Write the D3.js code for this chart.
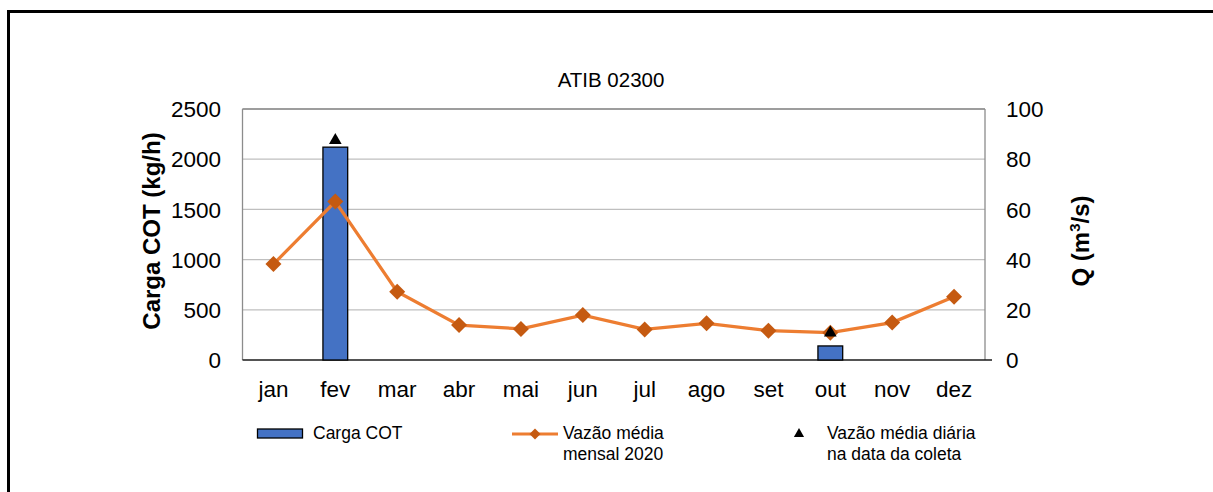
<!DOCTYPE html>
<html><head><meta charset="utf-8">
<script src="https://cdn.jsdelivr.net/npm/d3@7"></script>
<style>body{margin:0;background:#fff}svg{display:block;font-family:"Liberation Sans",Arial,sans-serif}</style>
</head><body>
<svg id="c" width="1213" height="492"></svg>
<script>
const months = ["jan","fev","mar","abr","mai","jun","jul","ago","set","out","nov","dez"];
const cargaCOT = [null,2120,null,null,null,null,null,null,null,140,null,null];
const vazaoMensal = [38.2,63.1,27.2,13.9,12.4,17.9,12.2,14.6,11.7,10.9,14.9,25.2];
const vazaoDiaria = [null,87.5,null,null,null,null,null,null,null,10.8,null,null];
const leftTicks = [0,500,1000,1500,2000,2500];
const rightTicks = [0,20,40,60,80,100];

const svg = d3.select("#c");
const L=242.5, R=985, T=109, B=360;
const x = d3.scaleBand().domain(months).range([L,R]).paddingInner(0).paddingOuter(0);
const yL = d3.scaleLinear().domain([0,2500]).range([B,T]);
const yR = d3.scaleLinear().domain([0,100]).range([B,T]);

// outer border
svg.append("line").attr("x1",8.5).attr("x2",1213).attr("y1",11.5).attr("y2",11.5).attr("stroke","#000").attr("stroke-width",3);
svg.append("line").attr("x1",8.5).attr("x2",8.5).attr("y1",10).attr("y2",492).attr("stroke","#000").attr("stroke-width",3);

// gridlines
svg.append("g").selectAll("line").data(leftTicks.filter(d=>d>0)).join("line")
  .attr("x1",L).attr("x2",R).attr("y1",d=>yL(d)).attr("y2",d=>yL(d))
  .attr("stroke","#BFBFBF").attr("stroke-width",1.3);

// axes lines
svg.append("line").attr("x1",L).attr("x2",L).attr("y1",T).attr("y2",B).attr("stroke","#8C8C8C").attr("stroke-width",1.3);
svg.append("line").attr("x1",R).attr("x2",R).attr("y1",T).attr("y2",B).attr("stroke","#8C8C8C").attr("stroke-width",1.3);
svg.append("line").attr("x1",L).attr("x2",R).attr("y1",T).attr("y2",T).attr("stroke","#8C8C8C").attr("stroke-width",1.3);
svg.append("line").attr("x1",L).attr("x2",R+7).attr("y1",B).attr("y2",B).attr("stroke","#1a1a1a").attr("stroke-width",1.3);

// tick labels
svg.append("g").selectAll("text").data(leftTicks).join("text")
  .attr("x",221).attr("y",d=>yL(d)).attr("dy","0.36em").attr("text-anchor","end")
  .attr("font-size",22.5).attr("fill","#000").text(d=>d);
svg.append("g").selectAll("text").data(rightTicks).join("text")
  .attr("x",1006).attr("y",d=>yR(d)).attr("dy","0.36em").attr("text-anchor","start")
  .attr("font-size",22.5).attr("fill","#000").text(d=>d);
svg.append("g").selectAll("text").data(months).join("text")
  .attr("x",d=>x(d)+x.bandwidth()/2).attr("y",397).attr("text-anchor","middle")
  .attr("font-size",22.5).attr("fill","#000").text(d=>d);

// axis titles
svg.append("text").attr("transform","translate(160,231) rotate(-90)").attr("text-anchor","middle")
  .attr("font-size",24).attr("font-weight","bold").text("Carga COT (kg/h)");
const rt = svg.append("text").attr("transform","translate(1089,241) rotate(-90)").attr("text-anchor","middle")
  .attr("font-size",24).attr("font-weight","bold");
rt.append("tspan").text("Q (m");
rt.append("tspan").attr("font-size",15).attr("dy",-9).text("3");
rt.append("tspan").attr("dy",9).text("/s)");

// title
svg.append("text").attr("x",611).attr("y",87).attr("text-anchor","middle").attr("font-size",20.5).text("ATIB 02300");

// bars
const bw = x.bandwidth()*0.4;
svg.append("g").selectAll("rect").data(months.map((m,i)=>({m,v:cargaCOT[i]})).filter(d=>d.v!=null)).join("rect")
  .attr("x",d=>x(d.m)+x.bandwidth()/2-bw/2).attr("width",bw)
  .attr("y",d=>yL(d.v)).attr("height",d=>B-yL(d.v))
  .attr("fill","#4472C4").attr("stroke","#000").attr("stroke-width",1.3);

// line
const pts = months.map((m,i)=>({m,v:vazaoMensal[i]}));
svg.append("path").datum(pts)
  .attr("d",d3.line().x(d=>x(d.m)+x.bandwidth()/2).y(d=>yR(d.v)))
  .attr("fill","none").attr("stroke","#ED7D31").attr("stroke-width",3.2);
const diamond = d3.symbol().type(d3.symbolSquare).size(128);
svg.append("g").selectAll("path").data(pts).join("path")
  .attr("d",diamond)
  .attr("transform",d=>`translate(${x(d.m)+x.bandwidth()/2},${yR(d.v)}) rotate(45)`)
  .attr("fill","#C55A11");

// triangles
const tri = d3.symbol().type(d3.symbolTriangle).size(70);
svg.append("g").selectAll("path").data(months.map((m,i)=>({m,v:vazaoDiaria[i]})).filter(d=>d.v!=null)).join("path")
  .attr("d",tri)
  .attr("transform",d=>`translate(${x(d.m)+x.bandwidth()/2},${yR(d.v)})`)
  .attr("fill","#000");

// legend
const lg = svg.append("g").attr("font-size",17.5).attr("fill","#000");
lg.append("rect").attr("x",257.5).attr("y",429).attr("width",45).attr("height",9)
  .attr("fill","#4472C4").attr("stroke","#000").attr("stroke-width",1.3);
lg.append("text").attr("x",313).attr("y",439).text("Carga COT");
lg.append("line").attr("x1",512).attr("x2",558).attr("y1",434).attr("y2",434).attr("stroke","#ED7D31").attr("stroke-width",3);
lg.append("path").attr("d",d3.symbol().type(d3.symbolSquare).size(60)).attr("transform","translate(535,434) rotate(45)").attr("fill","#C55A11");
lg.append("text").attr("x",563).attr("y",439).text("Vazão média");
lg.append("text").attr("x",563).attr("y",460).text("mensal 2020");
lg.append("path").attr("d",d3.symbol().type(d3.symbolTriangle).size(45)).attr("transform","translate(799,434)").attr("fill","#000");
lg.append("text").attr("x",827).attr("y",439).text("Vazão média diária");
lg.append("text").attr("x",827).attr("y",460).text("na data da coleta");
</script>
</body></html>
